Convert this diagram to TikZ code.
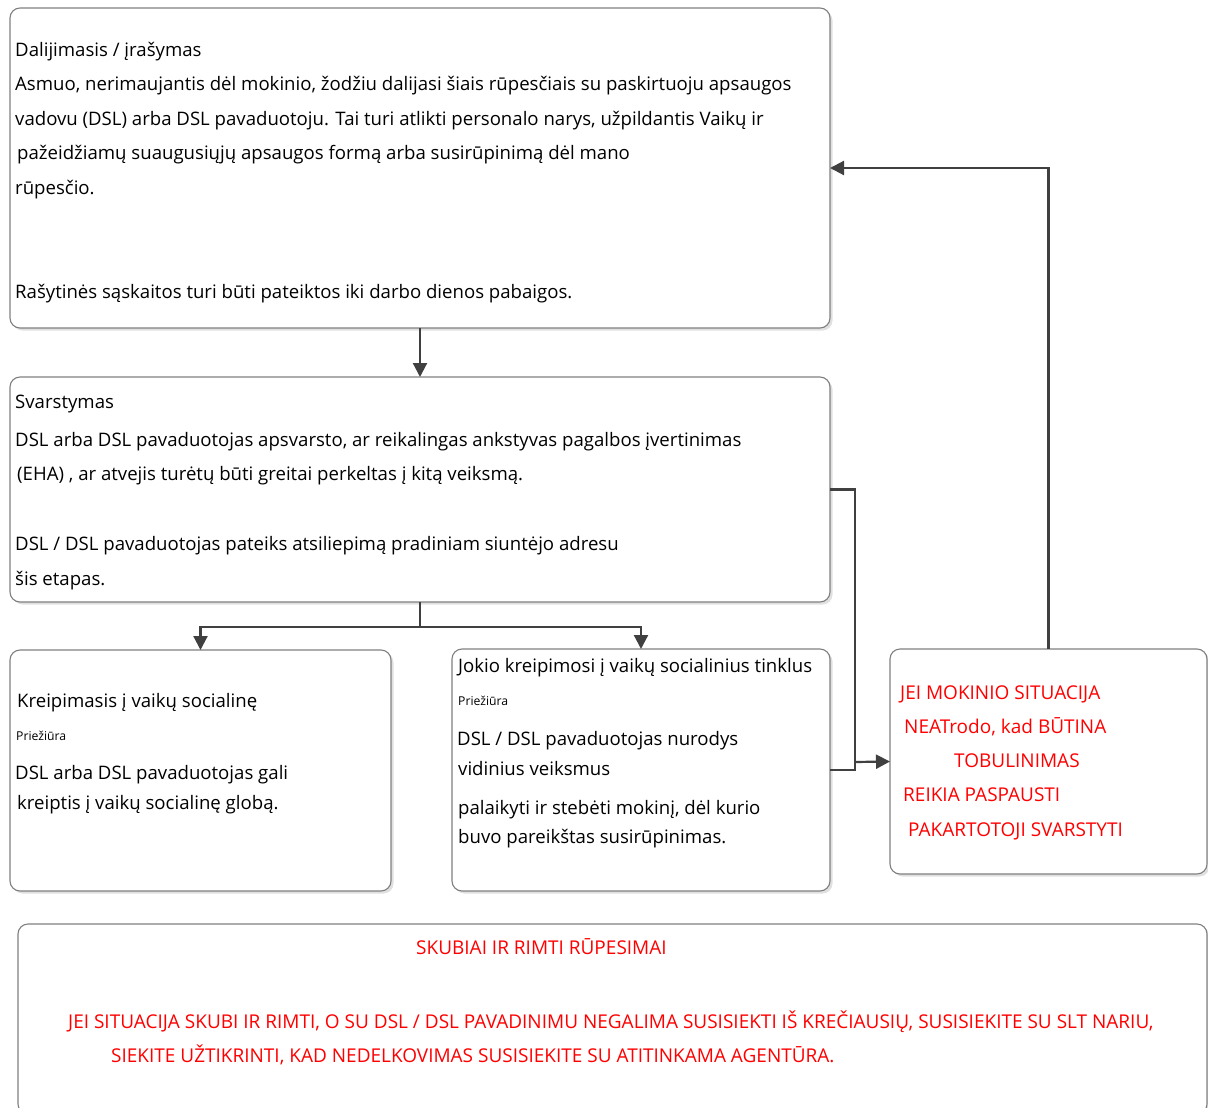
\documentclass[tikz,border=0pt]{standalone}
\usepackage{fontspec}
\setmainfont{Open Sans}
\usetikzlibrary{arrows.meta,shadows}
\definecolor{boxgray}{HTML}{808080}
\definecolor{conngray}{HTML}{404040}
\definecolor{redtxt}{HTML}{FF0000}
\begin{document}
\begin{tikzpicture}[x=1pt,y=-1pt,
  box/.style={draw=boxgray, line width=1.1pt, rounded corners=10pt, fill=white,
    inner sep=0pt, outer sep=0pt, anchor=north west,
    drop shadow={shadow xshift=2.5pt, shadow yshift=-2.5pt, fill=black!12, opacity=1}},
  conn/.style={draw=conngray, line width=2.2pt},
  arr/.style={conn, -{Triangle[length=14pt,width=14pt]}},
  txt/.style={anchor=base west, inner sep=0pt, font=\fontsize{18.6}{22}\selectfont},
  small/.style={anchor=base west, inner sep=0pt, font=\fontsize{12.2}{14}\selectfont},
  red/.style={anchor=base west, inner sep=0pt, text=redtxt, font=\fontsize{19}{22}\selectfont},
]
\useasboundingbox (0,0) rectangle (1208,1108);
% boxes
\node[box, minimum width=820pt, minimum height=320pt] (b1) at (10,8) {};
\node[box, minimum width=820pt, minimum height=225pt] (b2) at (10,377) {};
\node[box, minimum width=381pt, minimum height=241pt] (b3) at (10,650) {};
\node[box, minimum width=378pt, minimum height=242pt] (b4) at (452,649) {};
\node[box, minimum width=317pt, minimum height=225pt] (b5) at (890,649) {};
\node[box, minimum width=1189pt, minimum height=190pt] (b6) at (18,924) {};
% connectors
\coordinate (split) at (420,627);
\coordinate (j) at (855,770);
\coordinate (k) at (855,762);
\draw[arr] (b1.south) -- (b2.north);
\draw[conn] (b2.south) -- (split);
\draw[arr] (split) -| (b3.north);
\draw[arr] (split) -| (b4.north);
\draw[conn] (b2.east) -| (j) -- (b4.east);
\draw[arr] (k) -- (b5.west);
\draw[arr] (b5.north) |- (b1.east);
% box 1 text
\node[txt] (t11) at (15,57) {Dalijimasis / įrašymas};
\node[txt] (t12) at (15,91) {Asmuo, nerimaujantis dėl mokinio, žodžiu dalijasi šiais rūpesčiais su paskirtuoju apsaugos};
\node[txt] (t13) at (15,125) {vadovu (DSL) arba DSL pavaduotoju. Tai turi atlikti personalo narys, užpildantis Vaikų ir};
\node[txt] (t14) at (17,159) {pažeidžiamų suaugusiųjų apsaugos formą arba susirūpinimą dėl mano};
\node[txt] (t15) at (15,194) {rūpesčio.};
\node[txt] (t16) at (15,298) {Rašytinės sąskaitos turi būti pateiktos iki darbo dienos pabaigos.};
% box 2 text
\node[txt] (t21) at (15,408) {Svarstymas};
\node[txt] (t22) at (15,446) {DSL arba DSL pavaduotojas apsvarsto, ar reikalingas ankstyvas pagalbos įvertinimas};
\node[txt] (t23) at (17,480) {(EHA) , ar atvejis turėtų būti greitai perkeltas į kitą veiksmą.};
\node[txt] (t24) at (15,550) {DSL / DSL pavaduotojas pateiks atsiliepimą pradiniam siuntėjo adresu};
\node[txt] (t25) at (15,585) {šis etapas.};
% box 3 text
\node[txt] (t31) at (17,707) {Kreipimasis į vaikų socialinę};
\node[small] (t32) at (16,740) {Priežiūra};
\node[txt] (t33) at (15,779) {DSL arba DSL pavaduotojas gali};
\node[txt] (t34) at (17,809) {kreiptis į vaikų socialinę globą.};
% box 4 text
\node[txt] (t41) at (458,672) {Jokio kreipimosi į vaikų socialinius tinklus};
\node[small] (t42) at (458,705) {Priežiūra};
\node[txt] (t43) at (457,745) {DSL / DSL pavaduotojas nurodys};
\node[txt] (t44) at (458,775) {vidinius veiksmus};
\node[txt] (t45) at (458,814) {palaikyti ir stebėti mokinį, dėl kurio};
\node[txt] (t46) at (458,843) {buvo pareikštas susirūpinimas.};
% box 5 text
\node[red] (t51) at (900,699) {JEI MOKINIO SITUACIJA};
\node[red] (t52) at (904,733) {NEATrodo, kad BŪTINA};
\node[red] (t53) at (954,767) {TOBULINIMAS};
\node[red] (t54) at (903,801) {REIKIA PASPAUSTI};
\node[red] (t55) at (908,836) {PAKARTOTOJI SVARSTYTI};
% box 6 text
\node[red] (t61) at (416,954) {SKUBIAI IR RIMTI RŪPESIMAI};
\node[red] (t62) at (68,1028) {JEI SITUACIJA SKUBI IR RIMTI, O SU DSL / DSL PAVADINIMU NEGALIMA SUSISIEKTI IŠ KREČIAUSIŲ, SUSISIEKITE SU SLT NARIU,};
\node[red] (t63) at (111,1062) {SIEKITE UŽTIKRINTI, KAD NEDELKOVIMAS SUSISIEKITE SU ATITINKAMA AGENTŪRA.};
\end{tikzpicture}
\end{document}
